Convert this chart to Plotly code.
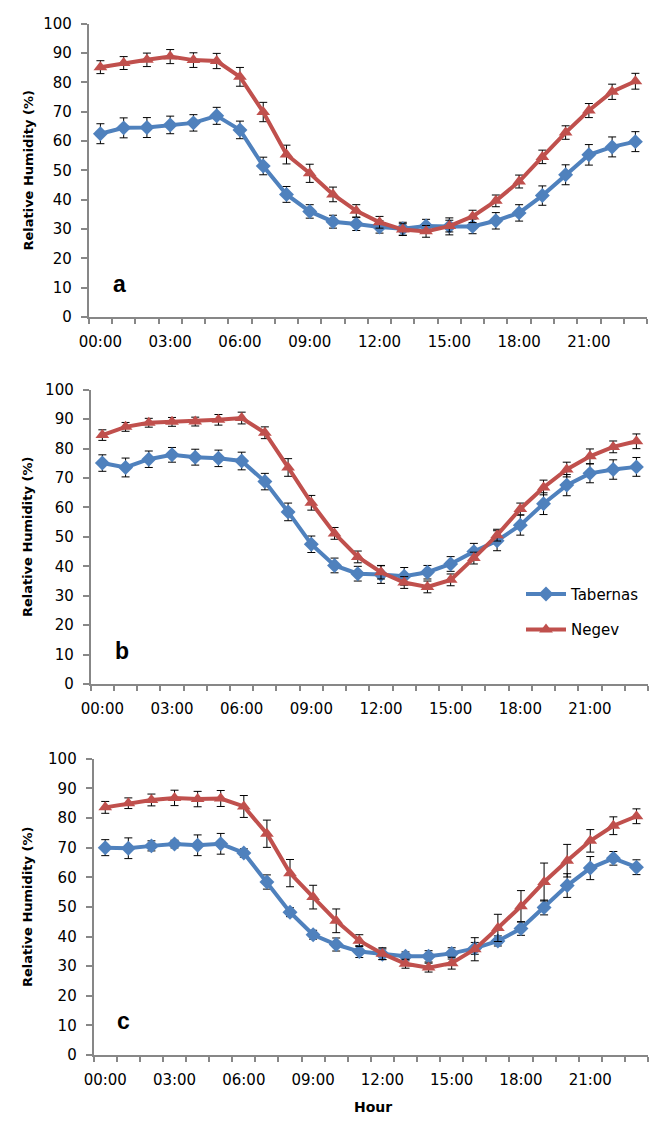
import plotly.graph_objects as go

W, H = 649, 1124

HOURS = ["00:00", "01:00", "02:00", "03:00", "04:00", "05:00", "06:00", "07:00",
         "08:00", "09:00", "10:00", "11:00", "12:00", "13:00", "14:00", "15:00",
         "16:00", "17:00", "18:00", "19:00", "20:00", "21:00", "22:00", "23:00"]
TICK_LABELS = ["00:00", "03:00", "06:00", "09:00", "12:00", "15:00", "18:00", "21:00"]
Y_TICKS = [0, 10, 20, 30, 40, 50, 60, 70, 80, 90, 100]

# Panel a
tab_a = [62.5, 64.5, 64.6, 65.5, 66.2, 68.6, 63.8, 51.5, 41.8, 36.0, 32.5, 31.7,
         30.7, 30.1, 31.0, 30.9, 30.9, 32.8, 35.5, 41.4, 48.5, 55.3, 58.0, 59.8]
tab_a_err = [3.4, 3.4, 3.4, 3.0, 2.8, 2.9, 3.0, 3.0, 2.7, 2.3, 2.2, 2.2,
             2.1, 2.2, 2.3, 2.9, 2.5, 2.8, 2.8, 3.3, 3.4, 3.5, 3.4, 3.4]
neg_a = [85.2, 86.6, 87.7, 88.8, 87.6, 87.3, 81.9, 69.9, 55.4, 49.0, 41.8, 36.2,
         32.3, 29.8, 29.2, 31.0, 34.3, 39.6, 46.2, 54.6, 62.9, 70.4, 76.8, 80.4]
neg_a_err = [2.2, 2.2, 2.3, 2.4, 2.5, 2.6, 3.2, 3.3, 3.2, 3.1, 2.5, 2.1,
             2.0, 2.0, 2.0, 2.0, 2.1, 2.0, 2.2, 2.3, 2.3, 2.4, 2.6, 2.7]

# Panel b
tab_b = [75.1, 73.6, 76.4, 77.9, 77.1, 76.7, 75.8, 68.8, 58.5, 47.5, 40.3, 37.5,
         37.2, 36.6, 38.0, 40.8, 45.0, 48.7, 54.0, 61.3, 67.6, 71.6, 72.9, 73.8]
tab_b_err = [2.8, 3.2, 2.8, 2.5, 2.7, 2.8, 3.0, 2.8, 3.0, 2.8, 2.5, 2.5,
             3.0, 3.0, 2.3, 2.5, 2.8, 3.4, 3.4, 3.7, 3.6, 3.2, 3.3, 3.2]
neg_b = [84.6, 87.4, 88.8, 89.1, 89.2, 89.8, 90.4, 85.4, 73.6, 61.6, 51.2, 43.2,
         38.0, 34.5, 33.0, 35.4, 42.8, 50.6, 59.5, 66.8, 72.9, 77.4, 80.6, 82.5]
neg_b_err = [1.8, 1.5, 1.5, 1.5, 1.5, 1.8, 2.0, 2.0, 3.0, 2.5, 2.0, 2.0,
             2.3, 2.0, 2.0, 2.0, 2.0, 2.0, 2.0, 2.5, 2.5, 2.5, 2.0, 2.5]

# Panel c
tab_c = [70.0, 69.8, 70.6, 71.2, 70.8, 71.3, 68.2, 58.4, 48.2, 40.6, 37.3, 34.9,
         34.0, 33.3, 33.3, 34.3, 36.0, 38.5, 42.7, 49.8, 57.2, 63.1, 66.4, 63.4]
tab_c_err = [2.7, 3.5, 1.7, 1.3, 3.5, 3.5, 1.4, 2.4, 1.5, 1.5, 2.2, 2.0,
             1.8, 1.5, 1.9, 1.9, 2.0, 1.7, 2.3, 2.5, 4.0, 3.9, 2.3, 2.5]
neg_c = [83.6, 85.0, 86.1, 86.8, 86.4, 86.6, 83.9, 74.7, 61.4, 53.3, 45.3, 38.6,
         34.2, 30.8, 29.5, 31.0, 35.7, 42.9, 50.2, 58.4, 65.6, 72.3, 77.4, 80.6]
neg_c_err = [2.0, 1.8, 2.0, 2.6, 2.6, 2.7, 3.7, 4.6, 4.6, 4.0, 4.0, 2.0,
             2.0, 1.5, 1.5, 2.0, 3.9, 4.6, 5.3, 6.4, 5.5, 3.8, 3.0, 2.5]

PANELS = [
    dict(letter="a", tab=tab_a, tab_err=tab_a_err, neg=neg_a, neg_err=neg_a_err,
         left=80, right=647, top=15, bottom=313, legend=False, letter_xy=(111, 279)),
    dict(letter="b", tab=tab_b, tab_err=tab_b_err, neg=neg_b, neg_err=neg_b_err,
         left=82, right=648, top=387, bottom=686, legend=True, letter_xy=(114, 652)),
    dict(letter="c", tab=tab_c, tab_err=tab_c_err, neg=neg_c, neg_err=neg_c_err,
         left=85, right=648, top=762, bottom=1063, legend=False, letter_xy=(115, 1028)),
]

BLUE = "#4F81BD"
RED = "#C0504D"
GREY = "#878787"
TICK_FONT = dict(family="DejaVu Sans", size=15, color="#000000")
TITLE_FONT = dict(family="DejaVu Sans", size=13, color="#000000")

x_idx = list(range(len(HOURS)))
tick_pos = [HOURS.index(t) for t in TICK_LABELS]

fig = go.Figure()
layout = dict(
    width=W, height=H,
    margin=dict(l=0, r=0, t=0, b=0),
    paper_bgcolor="white", plot_bgcolor="white",
    showlegend=True,
    legend=dict(x=519 / W, y=1 - 578 / H, xanchor="left", yanchor="top",
                font=TICK_FONT, bgcolor="rgba(0,0,0,0)", tracegroupgap=13,
                itemwidth=40, traceorder="grouped"),
)
annotations = []

for i, p in enumerate(PANELS):
    n = "" if i == 0 else str(i + 1)
    xa, ya = "x" + n, "y" + n
    for name, vals, errs, color, symbol, msize in [
        ("Tabernas", p["tab"], p["tab_err"], BLUE, "diamond", 11.5),
        ("Negev", p["neg"], p["neg_err"], RED, "triangle-up", 12),
    ]:
        fig.add_trace(go.Scatter(
            x=x_idx, y=vals, name=name, mode="lines+markers",
            line=dict(color=color, width=4),
            marker=dict(symbol=symbol, size=msize, color=color, line=dict(width=0)),
            error_y=dict(type="data", array=errs, visible=True, color="#000000",
                         thickness=1, width=4),
            xaxis=xa, yaxis=ya, showlegend=p["legend"], legendgroup=name,
        ))
    layout["xaxis" + n] = dict(
        domain=[p["left"] / W, p["right"] / W], anchor=ya,
        range=[-0.5, 23.5], tickmode="array", tickvals=tick_pos, ticktext=TICK_LABELS,
        ticks="", ticklabelstandoff=10, tickfont=TICK_FONT,
        showline=True, linecolor=GREY, linewidth=2, showgrid=False, zeroline=False,
        minor=dict(tickmode="linear", tick0=-0.5, dtick=1, ticks="outside",
                   ticklen=5, tickwidth=2, tickcolor=GREY, showgrid=False),
    )
    layout["yaxis" + n] = dict(
        domain=[1 - p["bottom"] / H, 1 - p["top"] / H], anchor=xa,
        range=[0, 100], tickmode="array", tickvals=Y_TICKS,
        ticks="outside", ticklen=6, tickwidth=2, tickcolor=GREY,
        ticklabelstandoff=6, tickfont=TICK_FONT,
        showline=True, linecolor=GREY, linewidth=2, showgrid=False, zeroline=False,
    )
    annotations.append(dict(
        text="<b>Relative Humidity (%)</b>", textangle=-90, showarrow=False,
        xref="paper", yref="paper", x=18.5 / W, y=1 - (p["top"] + p["bottom"]) / 2 / H,
        xanchor="center", yanchor="middle", font=TITLE_FONT,
    ))
    lx, ly = p["letter_xy"]
    annotations.append(dict(
        text="<b>%s</b>" % p["letter"], showarrow=False,
        xref="paper", yref="paper", x=lx / W, y=1 - ly / H,
        xanchor="center", yanchor="middle",
        font=dict(family="Liberation Sans", size=23, color="#000000"),
    ))

annotations.append(dict(
    text="<b>Hour</b>", showarrow=False, xref="paper", yref="paper",
    x=368.5 / W, y=1 - 1116 / H, xanchor="center", yanchor="middle",
    font=dict(family="DejaVu Sans", size=14, color="#000000"),
))
layout["annotations"] = annotations
fig.update_layout(**layout)
fig.write_html("out.html")
